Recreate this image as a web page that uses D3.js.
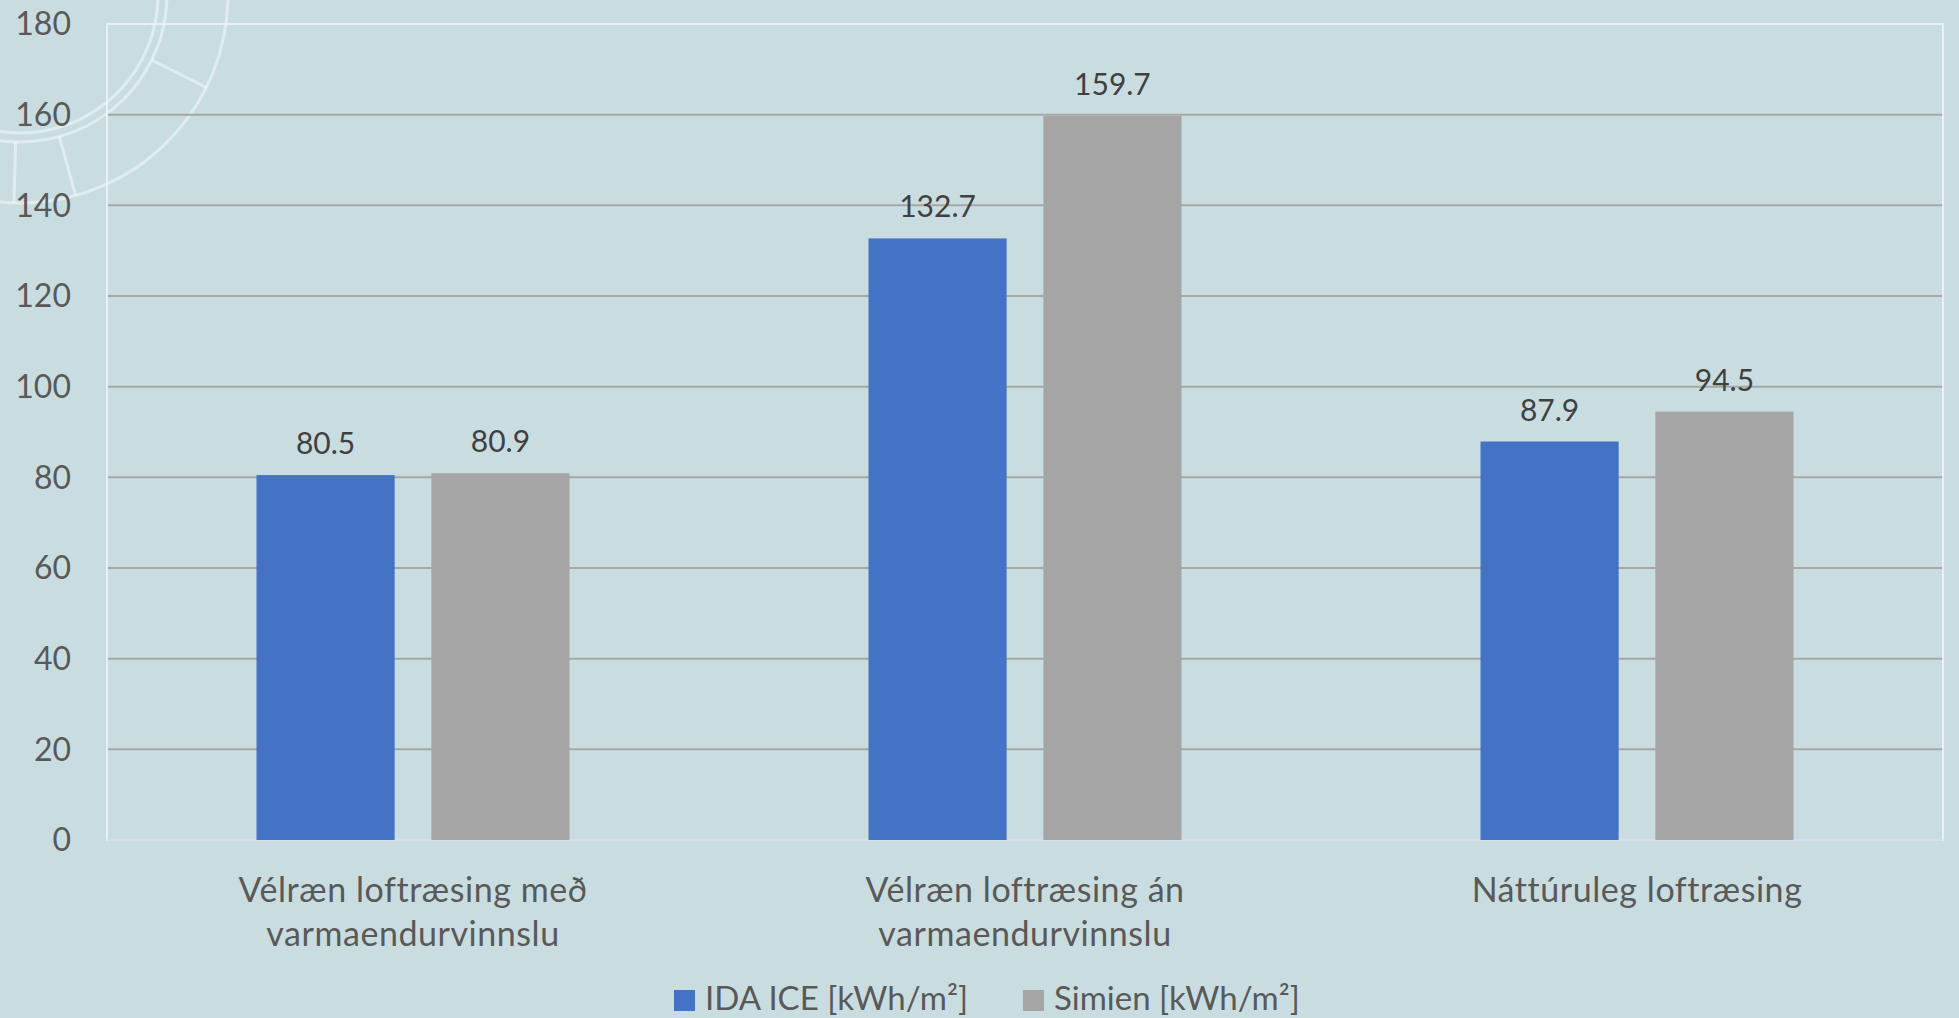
<!DOCTYPE html>
<html>
<head>
<meta charset="utf-8">
<script src="https://cdn.jsdelivr.net/npm/d3@7"></script>
<style>
  html, body { margin: 0; padding: 0; background: #c9dde0; }
  svg { display: block; font-family: Lato, "Open Sans", sans-serif; }
</style>
</head>
<body>
<div id="chart"></div>
<script>
// Chart data
const categories = [
    ["Vélræn loftræsing með", "varmaendurvinnslu"],
    ["Vélræn loftræsing án", "varmaendurvinnslu"],
    ["Náttúruleg loftræsing"]
];
const seriesNames = ["IDA ICE [kWh/m²]", "Simien [kWh/m²]"];
const seriesColors = ["#4472c4", "#a5a5a5"];
const idaValues = [80.5, 132.7, 87.9];
const simienValues = [80.9, 159.7, 94.5];
const yTicks = [0, 20, 40, 60, 80, 100, 120, 140, 160, 180];

const width = 1959;
const height = 1018;
const margin = { top: 24, right: 16, bottom: 178, left: 107 };

const svg = d3.select("#chart")
              .append("svg")
              .attr("width", width)
              .attr("height", height);

svg.append("rect")
   .attr("width", width)
   .attr("height", height)
   .attr("fill", "#c9dde0");

// Faint decorative rings in the top-left corner
const deco = svg.append("g")
                .attr("transform", "translate(20,-5)")
                .attr("fill", "none")
                .attr("stroke", "#ffffff")
                .attr("stroke-opacity", 0.45)
                .attr("stroke-width", 3);
[138, 147, 208].forEach(r => {
    deco.append("circle").attr("r", r);
});
[0.46, 1.3, 1.6].forEach(a => {
    deco.append("line")
        .attr("x1", 147 * Math.cos(a)).attr("y1", 147 * Math.sin(a))
        .attr("x2", 208 * Math.cos(a)).attr("y2", 208 * Math.sin(a));
});

const x0 = d3.scaleBand()
             .domain(d3.range(categories.length))
             .range([margin.left, width - margin.right])
             .padding(0);

const x1 = d3.scaleBand()
             .domain(d3.range(seriesNames.length))
             .range([0, x0.bandwidth()])
             .paddingInner(0.21)
             .paddingOuter(0.855);

const y = d3.scaleLinear()
            .domain([0, 180])
            .range([height - margin.bottom, margin.top]);

// Gridlines
svg.append("g")
   .selectAll("line")
   .data(yTicks.filter(d => d > 0 && d < 180))
   .enter().append("line")
   .attr("x1", margin.left)
   .attr("x2", width - margin.right)
   .attr("y1", d => y(d))
   .attr("y2", d => y(d))
   .attr("stroke", "#a6a6a6")
   .attr("stroke-width", 2);

// Plot area border
svg.append("rect")
   .attr("x", margin.left)
   .attr("y", y(180))
   .attr("width", width - margin.right - margin.left)
   .attr("height", y(0) - y(180))
   .attr("fill", "none")
   .attr("stroke", "#eef2fb")
   .attr("stroke-opacity", 0.85)
   .attr("stroke-width", 2);

svg.append("line")
   .attr("x1", margin.left)
   .attr("x2", width - margin.right)
   .attr("y1", y(0))
   .attr("y2", y(0))
   .attr("stroke", "#d9dcec")
   .attr("stroke-width", 2);

// Y tick labels
svg.append("g")
   .selectAll("text")
   .data(yTicks)
   .enter().append("text")
   .attr("x", 71)
   .attr("y", d => y(d))
   .attr("dy", "0.35em")
   .attr("text-anchor", "end")
   .attr("font-size", 32)
   .attr("fill", "#595959")
   .text(d => d);

// Bars
const seriesData = [idaValues, simienValues];
const groups = svg.append("g")
                  .selectAll("g")
                  .data(categories)
                  .enter().append("g")
                  .attr("transform", (d, i) => `translate(${x0(i)},0)`);

groups.selectAll("rect")
      .data((d, i) => seriesData.map((vals, s) => ({ s, v: vals[i] })))
      .enter().append("rect")
      .attr("x", d => x1(d.s))
      .attr("width", x1.bandwidth())
      .attr("y", d => y(d.v))
      .attr("height", d => y(0) - y(d.v))
      .attr("fill", d => seriesColors[d.s]);

groups.selectAll("text.value")
      .data((d, i) => seriesData.map((vals, s) => ({ s, v: vals[i] })))
      .enter().append("text")
      .attr("class", "value")
      .attr("x", d => x1(d.s) + x1.bandwidth() / 2)
      .attr("y", d => y(d.v) - 21)
      .attr("text-anchor", "middle")
      .attr("font-size", 30)
      .attr("fill", "#404040")
      .text(d => d.v.toFixed(1));

// Category labels
groups.append("text")
      .attr("x", x0.bandwidth() / 2)
      .attr("y", 902)
      .attr("text-anchor", "middle")
      .attr("font-size", 34)
      .attr("letter-spacing", 0.55)
      .attr("fill", "#595959")
      .selectAll("tspan")
      .data(d => d)
      .enter().append("tspan")
      .attr("x", x0.bandwidth() / 2)
      .attr("dy", (d, i) => i === 0 ? 0 : 44)
      .text(d => d);

// Legend
const legendX = [674, 1023];
const legend = svg.append("g")
                  .selectAll("g")
                  .data(seriesNames)
                  .enter().append("g")
                  .attr("transform", (d, i) => `translate(${legendX[i]},990)`);

legend.append("rect")
      .attr("width", 21)
      .attr("height", 21)
      .attr("fill", (d, i) => seriesColors[i]);

legend.append("text")
      .attr("x", 31)
      .attr("y", 20)
      .attr("font-size", 33)
      .attr("fill", "#595959")
      .text(d => d);
</script>
</body>
</html>
